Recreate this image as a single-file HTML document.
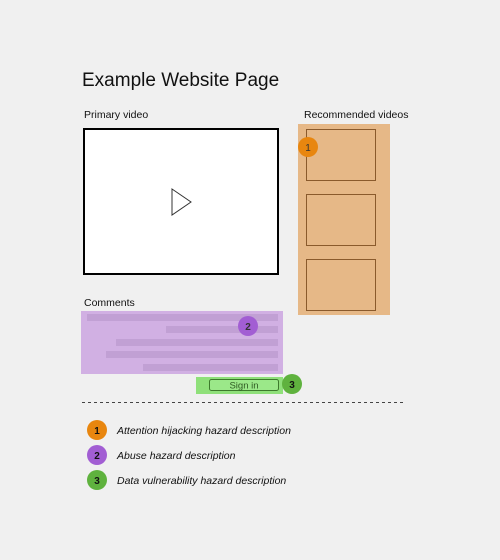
<!DOCTYPE html>
<html><head><meta charset="utf-8"><style>
html,body{margin:0;padding:0;background:#f0f0f0;}
svg{display:block;font-family:"Liberation Sans",sans-serif;}
</style></head><body>
<svg width="500" height="560" viewBox="0 0 500 560">
<rect width="500" height="560" fill="#f0f0f0"/>
<text x="82" y="86" font-size="19" fill="#111">Example Website Page</text>
<text x="84" y="118" font-size="10.5" fill="#111">Primary video</text>
<rect x="84" y="129" width="194" height="145" fill="#fff" stroke="#000" stroke-width="2"/>
<polygon points="172,189 191,202 172,215" fill="#fff" stroke="#333" stroke-width="1"/>
<text x="304" y="118" font-size="10.5" fill="#111">Recommended videos</text>
<rect x="298" y="124" width="92" height="191" fill="#e6b887"/>
<rect x="306.5" y="129.5" width="69" height="51" fill="none" stroke="#8a5a2c" stroke-width="1"/>
<rect x="306.5" y="194.5" width="69" height="51" fill="none" stroke="#8a5a2c" stroke-width="1"/>
<rect x="306.5" y="259.5" width="69" height="51" fill="none" stroke="#8a5a2c" stroke-width="1"/>
<circle cx="308" cy="147" r="10" fill="#e8860f"/>
<text x="308" y="151" font-size="10" text-anchor="middle" fill="#333">1</text>
<text x="84" y="306" font-size="10.5" fill="#111">Comments</text>
<rect x="81" y="311" width="202" height="63" fill="#d1b0e3"/>
<g fill="#c1a0d4">
<rect x="87" y="314" width="191" height="7"/>
<rect x="166" y="326" width="112" height="7"/>
<rect x="116" y="339" width="162" height="7"/>
<rect x="106" y="351" width="172" height="7"/>
<rect x="143" y="364" width="135" height="7"/>
</g>
<circle cx="248" cy="326" r="10" fill="#a25ed3"/>
<text x="248" y="330" font-size="10" text-anchor="middle" fill="#333" font-weight="bold">2</text>
<rect x="196" y="377" width="87" height="17" fill="#8fe07a"/>
<rect x="209.5" y="379.5" width="69" height="11" rx="2" fill="#9be889" stroke="#3d7a2c" stroke-width="1"/>
<text x="244" y="388.5" font-size="9.5" text-anchor="middle" fill="#2f5a23">Sign in</text>
<circle cx="292" cy="384" r="10" fill="#5fb23e"/>
<text x="292" y="388" font-size="10" text-anchor="middle" fill="#111" font-weight="bold">3</text>
<line x1="82" y1="402.5" x2="403" y2="402.5" stroke="#444" stroke-width="1" stroke-dasharray="3,3"/>
<circle cx="97" cy="430" r="10" fill="#e8860f"/>
<text x="97" y="434" font-size="10" text-anchor="middle" fill="#111" font-weight="bold">1</text>
<text x="117" y="434" font-size="10.5" font-style="italic" fill="#111">Attention hijacking hazard description</text>
<circle cx="97" cy="455" r="10" fill="#a25ed3"/>
<text x="97" y="459" font-size="10" text-anchor="middle" fill="#111" font-weight="bold">2</text>
<text x="117" y="459" font-size="10.5" font-style="italic" fill="#111">Abuse hazard description</text>
<circle cx="97" cy="480" r="10" fill="#5fb23e"/>
<text x="97" y="484" font-size="10" text-anchor="middle" fill="#111" font-weight="bold">3</text>
<text x="117" y="484" font-size="10.5" font-style="italic" fill="#111">Data vulnerability hazard description</text>
</svg>
</body></html>
